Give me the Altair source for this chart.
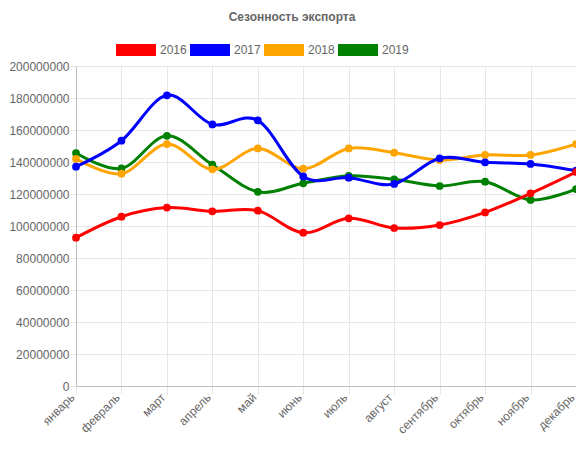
import altair as alt
import pandas as pd

months = ["январь", "февраль", "март", "апрель", "май", "июнь", "июль",
          "август", "сентябрь", "октябрь", "ноябрь", "декабрь"]
years = ["2016", "2017", "2018", "2019"]
colors = ["#ff0000", "#0000ff", "#ffa500", "#008000"]

v2016 = [92700000, 105800000, 111500000, 109200000, 109600000, 95800000,
         104800000, 98750000, 100600000, 108500000, 120400000, 133750000]
v2017 = [137100000, 153300000, 181700000, 163500000, 166000000, 131000000,
         130200000, 126300000, 142300000, 139800000, 138800000, 134600000]
v2018 = [142000000, 132700000, 151200000, 135400000, 148500000, 135800000,
         148500000, 145800000, 141200000, 144400000, 144400000, 151200000]
v2019 = [145600000, 136000000, 156400000, 138300000, 121400000, 126700000,
         131400000, 129200000, 125000000, 127700000, 116300000, 123100000]

series = {"2016": v2016, "2017": v2017, "2018": v2018, "2019": v2019}
rows = []
for y, vals in series.items():
    for m, v in zip(months, vals):
        rows.append({"month": m, "year": y, "value": v})
df = pd.DataFrame(rows)

FONT = "Liberation Sans"
GRID = "#e6e6e6"

x = alt.X("month:N", sort=months, title=None,
          scale=alt.Scale(type="point", padding=0),
          axis=alt.Axis(labelAngle=-45, labelAlign="right", labelBaseline="middle",
                        labelPadding=1, labelOffset=-4, tickSize=8, tickColor=GRID,
                        grid=True, gridColor=GRID, domainColor="#bfbfbf",
                        labelColor="#666", labelFontSize=12, labelFont=FONT))
y = alt.Y("value:Q", title=None,
          scale=alt.Scale(domain=[0, 200000000], nice=False),
          axis=alt.Axis(values=list(range(0, 200000001, 20000000)), format="d",
                        tickSize=6, tickColor=GRID, grid=True, gridColor=GRID,
                        domainColor="#bfbfbf", labelColor="#666", labelFontSize=12,
                        labelFont=FONT, labelPadding=1))
color_scale = alt.Scale(domain=years, range=colors)
legend = alt.Legend(orient="none", legendX=40, legendY=-36,
                    direction="horizontal", title=None,
                    symbolType="M-1,-0.3H1V0.3H-1Z",
                    symbolSize=1600, symbolStrokeWidth=0,
                    symbolOpacity=1, labelFontSize=12,
                    labelColor="#666", labelFont=FONT,
                    labelOffset=4, columnPadding=3)
color = alt.Color("year:N", scale=color_scale, legend=legend)

layers = []
for yr in reversed(years):
    base = alt.Chart(df).transform_filter(alt.datum.year == yr)
    line = base.mark_line(interpolate="cardinal", strokeWidth=3).encode(
        x=x, y=y, color=color)
    pts = base.mark_circle(size=60, opacity=1).encode(x=x, y=y, color=color)
    layers += [line, pts]

chart = alt.layer(*layers).properties(
    width=500, height=320,
    title=alt.TitleParams("Сезонность экспорта", anchor="middle", dx=-34,
                          offset=6, fontSize=12, fontWeight="bold",
                          color="#666", font=FONT),
    autosize=alt.AutoSizeParams(type="none"),
    padding={"left": 68, "top": 58, "right": 0, "bottom": 50},
).configure_view(stroke=None)

chart.save("out.html", embed_options={"renderer": "svg", "actions": False})
